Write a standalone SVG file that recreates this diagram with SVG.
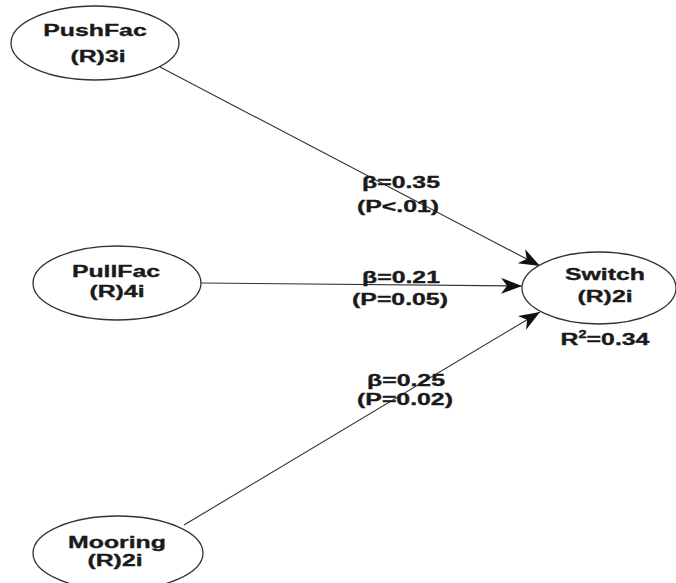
<svg xmlns="http://www.w3.org/2000/svg" width="676" height="583" viewBox="0 0 676 583">
  <style>
    .node ellipse { fill: #ffffff; stroke: #333333; stroke-width: 1.3; }
    .lbl { font-family: "Liberation Sans", Arial, sans-serif; font-weight: bold; font-size: 17px; fill: #1a1a1a; stroke: #1a1a1a; stroke-width: 0.35; text-anchor: middle; }
    .edge { stroke: #333333; stroke-width: 1.1; fill: none; marker-end: url(#head); }
  </style>
  <defs>
    <marker id="head" markerUnits="userSpaceOnUse" markerWidth="22" markerHeight="18" refX="21" refY="8" orient="auto">
      <path d="M0,0 L21,8 L0,16 L6,8 z" fill="#111111"/>
    </marker>
  </defs>
  <rect width="676" height="583" fill="#ffffff"/>

  <!-- paths between constructs, with their coefficients -->
  <g id="connectors">
    <line class="edge" x1="160" y1="67" x2="540" y2="266"/>
    <line class="edge" x1="200" y1="283" x2="522" y2="286"/>
    <line class="edge" x1="184" y1="525" x2="540" y2="312"/>
    <text class="lbl" transform="matrix(1.46 0 0 1 401 188)">β=0.35</text>
    <text class="lbl" transform="matrix(1.46 0 0 1 398 212)">(P&lt;.01)</text>
    <text class="lbl" transform="matrix(1.46 0 0 1 401 283)">β=0.21</text>
    <text class="lbl" transform="matrix(1.46 0 0 1 400 305)">(P=0.05)</text>
    <text class="lbl" transform="matrix(1.46 0 0 1 406 386)">β=0.25</text>
    <text class="lbl" transform="matrix(1.46 0 0 1 405 405)">(P=0.02)</text>
  </g>

  <g id="pushfac" class="node">
    <ellipse cx="95" cy="43" rx="84" ry="37"/>
    <text class="lbl" transform="matrix(1.46 0 0 1 95 36)">PushFac</text>
    <text class="lbl" transform="matrix(1.46 0 0 1 98 62)">(R)3i</text>
  </g>

  <g id="pullfac" class="node">
    <ellipse cx="117" cy="283" rx="84" ry="37"/>
    <text class="lbl" transform="matrix(1.46 0 0 1 116 277)">PullFac</text>
    <text class="lbl" transform="matrix(1.46 0 0 1 117 297)">(R)4i</text>
  </g>

  <g id="mooring" class="node">
    <ellipse cx="118" cy="553" rx="85" ry="37"/>
    <text class="lbl" transform="matrix(1.46 0 0 1 117 548)">Mooring</text>
    <text class="lbl" transform="matrix(1.46 0 0 1 115 566)">(R)2i</text>
  </g>

  <g id="switch" class="node">
    <ellipse cx="599" cy="288" rx="77" ry="36"/>
    <text class="lbl" transform="matrix(1.46 0 0 1 605 280)">Switch</text>
    <text class="lbl" transform="matrix(1.46 0 0 1 605 302)">(R)2i</text>
    <text class="lbl" transform="matrix(1.46 0 0 1 605 345)">R<tspan dy="-7" font-size="10">2</tspan><tspan dy="7">=0.34</tspan></text>
  </g>
</svg>
